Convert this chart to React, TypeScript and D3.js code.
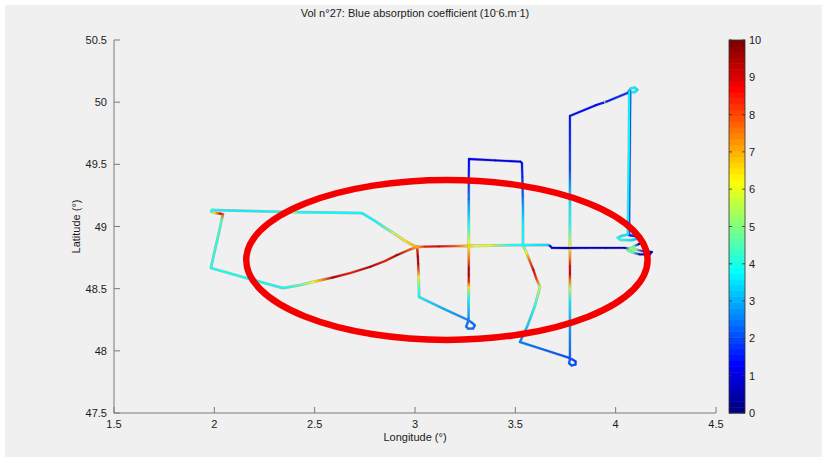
import React, { useMemo } from "react";
import * as d3 from "d3";

// Each fix: [longitude (°), latitude (°), blue absorption coefficient (10^-6 m^-1)]
type Fix = [number, number, number];

const lonTicks = [1.5, 2, 2.5, 3, 3.5, 4, 4.5];
const latTicks = [47.5, 48, 48.5, 49, 49.5, 50, 50.5];
const coefTicks = [0, 1, 2, 3, 4, 5, 6, 7, 8, 9, 10];

// Western loop: out along the northern edge, back along the southern curve
const westLoop: Fix[] = [
  [3.010, 48.835, 7.0], [2.975, 48.862, 6.8], [2.950, 48.885, 6.5], [2.890, 48.950, 5.5],
  [2.850, 48.990, 4.4], [2.800, 49.045, 3.8], [2.736, 49.108, 3.7], [2.600, 49.111, 3.8],
  [2.420, 49.115, 3.9], [2.385, 49.116, 6.0], [2.350, 49.117, 3.9], [2.150, 49.126, 3.6],
  [2.010, 49.132, 3.7], [1.988, 49.133, 3.8], [1.985, 49.120, 4.0], [2.000, 49.110, 6.5],
  [2.030, 49.103, 9.0], [2.043, 49.100, 8.0], [2.036, 49.050, 4.5], [2.018, 48.916, 4.2],
  [2.000, 48.790, 4.1], [1.983, 48.666, 4.0], [2.150, 48.590, 3.9], [2.342, 48.505, 3.8],
  [2.427, 48.529, 4.6], [2.492, 48.554, 6.0], [2.542, 48.572, 7.5], [2.591, 48.590, 9.5],
  [2.676, 48.625, 8.5], [2.776, 48.676, 9.5], [2.850, 48.722, 8.5], [2.910, 48.770, 9.5],
  [2.975, 48.815, 8.0], [3.010, 48.835, 7.0],
];

// Southward leg from the junction, then the small turn near 3.27°E
const southDrop: Fix[] = [
  [3.010, 48.835, 7.0], [3.012, 48.810, 8.5], [3.014, 48.760, 9.6], [3.016, 48.700, 9.4],
  [3.017, 48.650, 8.0], [3.018, 48.590, 6.0], [3.019, 48.540, 5.0], [3.020, 48.480, 4.0],
  [3.020, 48.433, 3.7], [3.140, 48.340, 3.0], [3.264, 48.248, 2.5], [3.285, 48.225, 2.3],
  [3.298, 48.205, 2.2], [3.290, 48.180, 2.3], [3.265, 48.178, 2.4], [3.255, 48.195, 2.3],
  [3.262, 48.225, 2.4], [3.267, 48.260, 2.7],
];

// North–south transects at 3.27°E and 3.54°E with the zigzag back south
const middleTransects: Fix[] = [
  [3.267, 48.260, 2.7], [3.267, 48.400, 3.6], [3.268, 48.460, 4.5], [3.268, 48.510, 6.5],
  [3.268, 48.560, 8.5], [3.268, 48.610, 9.5], [3.268, 48.660, 9.5], [3.268, 48.720, 8.0],
  [3.268, 48.780, 7.2], [3.268, 48.835, 6.5], [3.268, 48.880, 6.0], [3.268, 48.930, 5.0],
  [3.268, 49.010, 4.0], [3.268, 49.110, 3.2], [3.268, 49.220, 2.4], [3.268, 49.380, 1.6],
  [3.269, 49.543, 1.2], [3.400, 49.532, 1.0], [3.525, 49.522, 1.1], [3.533, 49.510, 1.3],
  [3.535, 49.400, 1.6], [3.537, 49.250, 2.2], [3.538, 49.150, 2.9], [3.538, 49.020, 3.6],
  [3.538, 48.851, 4.0], [3.555, 48.790, 6.0], [3.570, 48.730, 7.8], [3.590, 48.650, 9.2],
  [3.605, 48.580, 8.2], [3.623, 48.513, 5.5], [3.595, 48.350, 4.0], [3.560, 48.200, 3.2],
  [3.523, 48.071, 2.5], [3.650, 48.005, 2.2], [3.765, 47.945, 2.0], [3.785, 47.930, 2.0],
  [3.800, 47.915, 1.9], [3.800, 47.890, 2.0], [3.780, 47.882, 2.1], [3.768, 47.900, 2.1],
  [3.772, 47.930, 2.1],
];

// Long northbound transect at 3.77°E and the crossing to the north-east turn
const eastTransect: Fix[] = [
  [3.772, 47.930, 2.1], [3.772, 48.200, 2.8], [3.772, 48.400, 3.6], [3.772, 48.500, 5.5],
  [3.772, 48.560, 7.5], [3.772, 48.620, 9.3], [3.772, 48.680, 9.0], [3.772, 48.750, 7.5],
  [3.772, 48.835, 6.5], [3.772, 48.920, 5.0], [3.772, 49.000, 4.0], [3.772, 49.150, 3.6],
  [3.772, 49.300, 3.0], [3.772, 49.450, 2.0], [3.772, 49.700, 1.6], [3.772, 49.889, 1.4],
  [3.900, 49.975, 1.3], [3.940, 49.996, 1.5], [3.947, 50.000, 7.0], [3.954, 50.004, 1.5],
  [4.060, 50.075, 1.8], [4.075, 50.110, 3.6], [4.095, 50.117, 3.6], [4.108, 50.100, 3.5],
  [4.095, 50.080, 3.6], [4.068, 50.082, 3.7],
];

// Return leg down 4.07°E (two close passes)
const returnLegOuter: Fix[] = [
  [4.073, 50.085, 2.0], [4.070, 49.600, 1.8], [4.067, 48.930, 2.0],
];
const returnLegInner: Fix[] = [
  [4.068, 50.082, 3.7], [4.066, 49.600, 3.8], [4.061, 48.935, 3.6],
];

// Turns at the eastern end
const eastTurns: Fix[] = [
  [4.061, 48.935, 3.6], [4.030, 48.925, 3.5], [4.010, 48.910, 3.8], [4.025, 48.893, 4.0],
  [4.080, 48.890, 3.4], [4.110, 48.903, 3.0], [4.095, 48.925, 2.2], [4.070, 48.930, 1.8],
  [4.120, 48.915, 0.9], [4.138, 48.885, 0.6], [4.115, 48.858, 0.8], [4.090, 48.840, 4.5],
  [4.070, 48.822, 5.0], [4.100, 48.815, 5.0], [4.140, 48.800, 0.8], [4.180, 48.795, 0.6],
  [4.170, 48.775, 0.6], [4.120, 48.776, 0.8], [4.085, 48.790, 4.5], [4.060, 48.810, 5.0],
];

// East–west crossing along ~48.84°N
const crossing: Fix[] = [
  [3.010, 48.835, 7.0], [3.050, 48.838, 8.5], [3.120, 48.840, 9.0], [3.200, 48.842, 8.0],
  [3.250, 48.843, 7.0], [3.300, 48.845, 6.0], [3.370, 48.847, 6.0], [3.420, 48.848, 5.0],
  [3.470, 48.850, 4.0], [3.538, 48.851, 3.8], [3.663, 48.852, 3.4], [3.672, 48.845, 1.5],
  [3.683, 48.828, 0.8], [3.750, 48.827, 0.5], [3.850, 48.828, 0.8], [3.950, 48.828, 0.5],
  [4.046, 48.828, 0.7], [4.070, 48.822, 5.0],
];

const legs: Fix[][] = [
  westLoop, southDrop, middleTransects, eastTransect,
  returnLegOuter, returnLegInner, eastTurns, crossing,
];

// Highlighted zone (centre lon/lat, semi-axes in degrees)
const zoneCenter: [number, number] = [3.159, 48.731];
const zoneRadii: [number, number] = [1.0, 0.643];

// MATLAB-style jet colormap
function jet(t: number): string {
  const c = (v: number) => Math.max(0, Math.min(1, v));
  const r = c(1.5 - Math.abs(4 * t - 3));
  const g = c(1.5 - Math.abs(4 * t - 2));
  const b = c(1.5 - Math.abs(4 * t - 1));
  return d3.rgb(r * 255, g * 255, b * 255).formatHex();
}

const W = 827;
const H = 462;
const plot = { left: 114, right: 716, top: 40, bottom: 413 };
const bar = { left: 729, right: 745 };
const font = "'Liberation Sans', Arial, Helvetica, sans-serif";

export default function App() {
  const x = d3.scaleLinear().domain([1.5, 4.5]).range([plot.left, plot.right]);
  const y = d3.scaleLinear().domain([47.5, 50.5]).range([plot.bottom, plot.top]);
  const cScale = d3.scaleLinear().domain([0, 10]).range([plot.bottom, plot.top]);
  const colorOf = (v: number) => jet(Math.max(0, Math.min(1, v / 10)));
  const trackLine = d3
    .line<Fix>()
    .x((d) => x(d[0]))
    .y((d) => y(d[1]));

  const segments = useMemo(() => {
    const out: { id: string; x1: number; y1: number; x2: number; y2: number; c1: string; c2: string }[] = [];
    legs.forEach((leg, li) => {
      for (let i = 0; i < leg.length - 1; i++) {
        const a = leg[i];
        const b = leg[i + 1];
        out.push({
          id: `seg-${li}-${i}`,
          x1: x(a[0]), y1: y(a[1]), x2: x(b[0]), y2: y(b[1]),
          c1: colorOf(a[2]), c2: colorOf(b[2]),
        });
      }
    });
    return out;
  }, []);

  const levels = d3.range(64);
  const levelH = (plot.bottom - plot.top) / 64;

  return (
    <svg
      width={W}
      height={H}
      style={{ position: "absolute", left: 0, top: 0, display: "block" }}
      fontFamily={font}
    >
      <rect x={0} y={0} width={W} height={H} fill="#ffffff" />
      <rect x={5} y={5} width={W - 10} height={H - 10} fill="#f0f0f0" />

      <defs>
        {segments.map((s) => (
          <linearGradient
            key={s.id}
            id={s.id}
            gradientUnits="userSpaceOnUse"
            x1={s.x1} y1={s.y1} x2={s.x2} y2={s.y2}
          >
            <stop offset="0" stopColor={s.c1} />
            <stop offset="1" stopColor={s.c2} />
          </linearGradient>
        ))}
      </defs>

      {/* title */}
      <text x={(plot.left + plot.right) / 2} y={17} textAnchor="middle" fontSize={11} fill="#1a1a1a">
        Vol n°27: Blue absorption coefficient (10
        <tspan dy={-4} fontSize={8}>-</tspan>
        <tspan dy={4}>6.m</tspan>
        <tspan dy={-4} fontSize={8}>-</tspan>
        <tspan dy={4}>1)</tspan>
      </text>

      {/* axes */}
      <g stroke="#7a7a7a" strokeWidth={1} fill="none">
        <line x1={plot.left} x2={plot.left} y1={plot.top} y2={plot.bottom + 0.5} />
        <line x1={plot.left} x2={plot.right} y1={plot.bottom} y2={plot.bottom} />
        {lonTicks.map((t) => (
          <line key={`xt${t}`} x1={x(t)} x2={x(t)} y1={plot.bottom} y2={plot.bottom - 6} />
        ))}
        {latTicks.map((t) => (
          <line key={`yt${t}`} x1={plot.left} x2={plot.left + 6} y1={y(t)} y2={y(t)} />
        ))}
      </g>
      <g fontSize={11} fill="#1a1a1a">
        {lonTicks.map((t) => (
          <text key={`xl${t}`} x={x(t)} y={plot.bottom + 15} textAnchor="middle">
            {String(t)}
          </text>
        ))}
        {latTicks.map((t) => (
          <text key={`yl${t}`} x={plot.left - 7} y={y(t) + 4} textAnchor="end">
            {String(t)}
          </text>
        ))}
        <text x={(plot.left + plot.right) / 2} y={plot.bottom + 28} textAnchor="middle">
          Longitude (°)
        </text>
        <text
          transform={`translate(${plot.left - 34},${(plot.top + plot.bottom) / 2}) rotate(-90)`}
          textAnchor="middle"
        >
          Latitude (°)
        </text>
      </g>

      {/* dark edge under the track */}
      <g fill="none" stroke="#0a1030" strokeOpacity={0.3} strokeWidth={2.8} strokeLinejoin="round" strokeLinecap="round">
        {legs.map((leg, i) => (
          <path key={`edge${i}`} d={trackLine(leg) ?? ""} />
        ))}
      </g>

      {/* flight track coloured by coefficient */}
      <g strokeWidth={1.9} strokeLinecap="round" fill="none">
        {segments.map((s) => (
          <line key={s.id} x1={s.x1} y1={s.y1} x2={s.x2} y2={s.y2} stroke={`url(#${s.id})`} />
        ))}
      </g>

      {/* highlighted zone */}
      <ellipse
        cx={x(zoneCenter[0])}
        cy={y(zoneCenter[1])}
        rx={x(zoneCenter[0] + zoneRadii[0]) - x(zoneCenter[0])}
        ry={y(zoneCenter[1]) - y(zoneCenter[1] + zoneRadii[1])}
        fill="none"
        stroke="#f40000"
        strokeWidth={6.5}
      />

      {/* colorbar */}
      <g>
        {levels.map((i) => (
          <rect
            key={`cb${i}`}
            x={bar.left}
            y={plot.bottom - (i + 1) * levelH}
            width={bar.right - bar.left}
            height={levelH + 0.5}
            fill={jet(i / 63)}
          />
        ))}
        <rect
          x={bar.left}
          y={plot.top}
          width={bar.right - bar.left}
          height={plot.bottom - plot.top}
          fill="none"
          stroke="#333"
          strokeWidth={0.8}
        />
        <g stroke="#333" strokeWidth={0.8}>
          {coefTicks.map((t) => (
            <g key={`ct${t}`}>
              <line x1={bar.left} x2={bar.left + 3} y1={cScale(t)} y2={cScale(t)} />
              <line x1={bar.right - 3} x2={bar.right} y1={cScale(t)} y2={cScale(t)} />
            </g>
          ))}
        </g>
        <g fontSize={11} fill="#1a1a1a">
          {coefTicks.map((t) => (
            <text key={`cl${t}`} x={bar.right + 4} y={cScale(t) + 4}>
              {String(t)}
            </text>
          ))}
        </g>
      </g>
    </svg>
  );
}
